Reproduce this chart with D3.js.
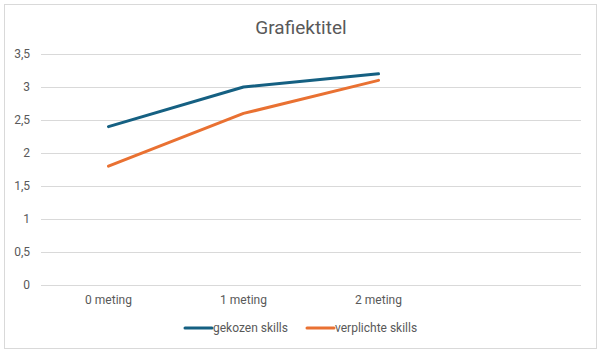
<!DOCTYPE html>
<html><head><meta charset="utf-8">
<script src="https://cdn.jsdelivr.net/npm/d3@7"></script>
<style>body{margin:0;background:#fff;} svg{display:block;font-family:Roboto,"Liberation Sans",sans-serif;}</style>
</head><body>
<svg id="c" width="605" height="354"></svg>
<script>
const categories = ["0 meting", "1 meting", "2 meting", ""];
const gekozen = [2.4, 3.0, 3.2];
const verplicht = [1.8, 2.6, 3.1];
const seriesNames = ["gekozen skills", "verplichte skills"];
const yTicks = [0, 0.5, 1, 1.5, 2, 2.5, 3, 3.5];
const title = "Grafiektitel";
const colors = ["#156082", "#E97132"];

(function(){
const svg = d3.select("#c");
svg.append("rect").attr("x", 4.5).attr("y", 4.5).attr("width", 592).attr("height", 344)
  .attr("fill", "#fff").attr("stroke", "#d9d9d9");

const pLeft = 41, pRight = 581, pTop = 54, pBottom = 285;
const x = d3.scaleBand().domain(categories.map((c,i)=>i)).range([pLeft, pRight]);
const y = d3.scaleLinear().domain([0, 3.5]).range([pBottom, pTop]);
const fmt = v => String(v).replace(".", ",");

svg.append("text").attr("x", 301).attr("y", 34).attr("text-anchor", "middle")
  .attr("font-size", 19).attr("fill", "#595959").text(title);

const yAxis = d3.axisLeft(y).tickValues(yTicks).tickSize(-(pRight-pLeft)).tickFormat(fmt).tickPadding(11);
const gy = svg.append("g").attr("transform", `translate(${pLeft},0)`).call(yAxis);
gy.select(".domain").remove();
gy.selectAll(".tick line").attr("stroke", "#d9d9d9");
gy.selectAll(".tick text").attr("fill", "#595959").attr("font-size", 12).attr("font-family", "Roboto,'Liberation Sans',sans-serif");

const xAxis = d3.axisBottom(x).tickFormat(i => categories[i]).tickSize(0).tickPadding(10);
const gx = svg.append("g").attr("transform", `translate(0,${pBottom})`).call(xAxis);
gx.select(".domain").remove();
gx.selectAll(".tick text").attr("fill", "#595959").attr("font-size", 12).attr("font-family", "Roboto,'Liberation Sans',sans-serif");

const line = d3.line().x((d,i) => x(i) + x.bandwidth()/2).y(d => y(d));
[gekozen, verplicht].forEach((s, k) => {
  svg.append("path").datum(s).attr("d", line).attr("fill", "none")
    .attr("stroke", colors[k]).attr("stroke-width", 3).attr("stroke-linecap", "round").attr("stroke-linejoin", "round");
});

const legX = [185, 307];
seriesNames.forEach((n, k) => {
  const g = svg.append("g").attr("transform", `translate(${legX[k]},328)`);
  g.append("line").attr("x1", 0).attr("x2", 27).attr("y1", 0).attr("y2", 0)
    .attr("stroke", colors[k]).attr("stroke-width", 3).attr("stroke-linecap", "round");
  g.append("text").attr("x", 28).attr("y", 4).attr("font-size", 12).attr("fill", "#595959").text(n);
});
})();
</script>
</body></html>
